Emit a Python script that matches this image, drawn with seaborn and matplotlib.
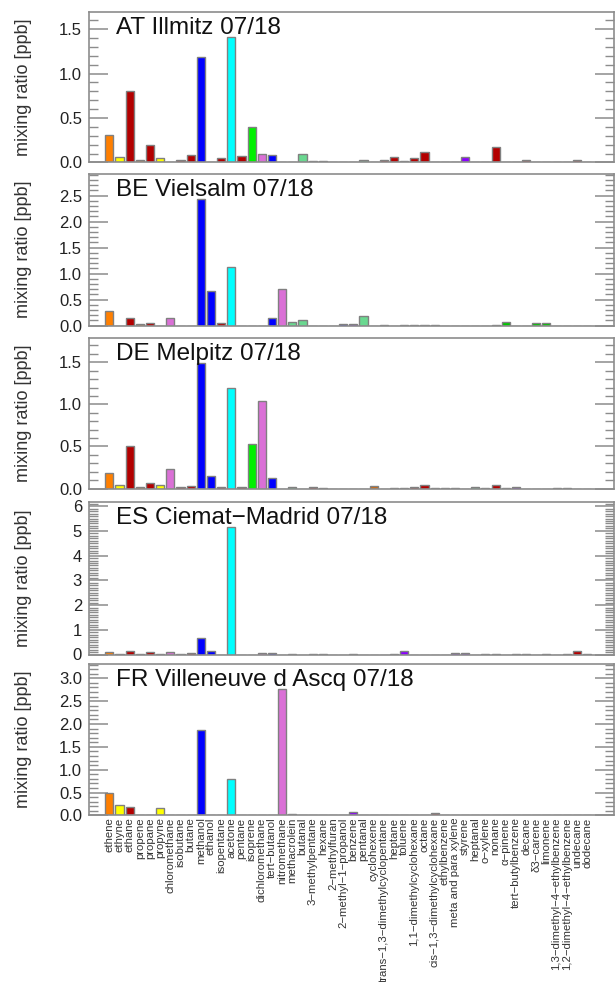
import matplotlib
matplotlib.use("Agg")
import matplotlib.pyplot as plt
from matplotlib.ticker import MultipleLocator, FormatStrFormatter
import seaborn as sns
import pandas as pd

# VOC species, in plotting order
compounds = [
    "ethene", "ethyne", "ethane", "propene", "propane", "propyne",
    "chloromethane", "isobutane", "butane", "methanol", "ethanol",
    "isopentane", "acetone", "pentane", "isoprene", "dichloromethane",
    "tert−butanol", "nitromethane", "methacrolein", "butanal",
    "3−methylpentane", "hexane", "2−methylfuran", "2−methyl−1−propanol",
    "benzene", "pentanal", "cyclohexene", "trans−1,3−dimethylcyclopentane",
    "heptane", "toluene", "1,1−dimethylcyclohexane", "octane",
    "cis−1,3−dimethylcyclohexane", "ethylbenzene", "meta and para xylene",
    "styrene", "heptanal", "o−xylene", "nonane", "α−pinene",
    "tert−butylbenzene", "decane", "δ3−carene", "limonene",
    "1,3−dimethyl−4−ethylbenzene", "1,2−dimethyl−4−ethylbenzene",
    "undecane", "dodecane",
]

# compound-class colours
ORANGE, YELLOW, RED = "#FF7F00", "#FFFF00", "#B30000"
BLUE, CYAN, GREEN = "#0000FF", "#00FFFF", "#00F000"
ORCHID, ALDEH, PURPLE = "#DA70D6", "#6AD890", "#8A00FF"
TERP, BROWN = "#00C800", "#D06A10"

compound_colors = [
    ORANGE, YELLOW, RED, ORANGE, RED, YELLOW,
    ORCHID, RED, RED, BLUE, BLUE,
    RED, CYAN, RED, GREEN, ORCHID,
    BLUE, ORCHID, ALDEH, ALDEH,
    RED, RED, BROWN, BLUE,
    PURPLE, ALDEH, BROWN, RED,
    RED, PURPLE, RED, RED,
    RED, PURPLE, PURPLE,
    PURPLE, ALDEH, PURPLE, RED, TERP,
    PURPLE, RED, TERP, TERP,
    PURPLE, PURPLE,
    RED, RED,
]

# mean mixing ratios (ppb), July 2018
at_illmitz = [
    0.31, 0.06, 0.80, 0.03, 0.20, 0.05, 0.00, 0.03, 0.08, 1.19, 0.00,
    0.05, 1.41, 0.07, 0.40, 0.09, 0.08, 0.00, 0.00, 0.10, 0.02, 0.02,
    0.00, 0.00, 0.00, 0.03, 0.01, 0.03, 0.06, 0.02, 0.05, 0.12, 0.00,
    0.01, 0.00, 0.06, 0.00, 0.00, 0.17, 0.01, 0.00, 0.03, 0.00, 0.00,
    0.00, 0.00, 0.03, 0.00,
]
be_vielsalm = [
    0.28, 0.00, 0.15, 0.03, 0.04, 0.00, 0.15, 0.00, 0.00, 2.43, 0.66,
    0.04, 1.13, 0.00, 0.00, 0.00, 0.15, 0.71, 0.07, 0.10, 0.00, 0.00,
    0.00, 0.02, 0.02, 0.19, 0.00, 0.01, 0.00, 0.01, 0.01, 0.01, 0.01,
    0.00, 0.00, 0.00, 0.00, 0.00, 0.01, 0.06, 0.00, 0.00, 0.04, 0.04,
    0.00, 0.00, 0.00, 0.00,
]
de_melpitz = [
    0.19, 0.04, 0.50, 0.02, 0.07, 0.04, 0.23, 0.02, 0.03, 1.49, 0.15,
    0.02, 1.20, 0.02, 0.53, 1.04, 0.13, 0.00, 0.02, 0.00, 0.02, 0.01,
    0.00, 0.00, 0.00, 0.00, 0.03, 0.00, 0.01, 0.01, 0.02, 0.04, 0.01,
    0.01, 0.01, 0.00, 0.02, 0.01, 0.04, 0.01, 0.02, 0.00, 0.00, 0.00,
    0.01, 0.01, 0.00, 0.00,
]
es_ciemat = [
    0.10, 0.03, 0.15, 0.03, 0.10, 0.04, 0.10, 0.03, 0.05, 0.65, 0.15,
    0.00, 5.15, 0.00, 0.00, 0.05, 0.05, 0.00, 0.03, 0.00, 0.02, 0.02,
    0.00, 0.00, 0.03, 0.00, 0.00, 0.00, 0.02, 0.15, 0.00, 0.00, 0.00,
    0.00, 0.05, 0.08, 0.00, 0.03, 0.03, 0.00, 0.03, 0.03, 0.00, 0.02,
    0.00, 0.02, 0.15, 0.03,
]
fr_villeneuve = [
    0.50, 0.23, 0.19, 0.00, 0.00, 0.17, 0.00, 0.00, 0.00, 1.86, 0.00,
    0.00, 0.80, 0.00, 0.00, 0.00, 0.00, 2.76, 0.02, 0.00, 0.00, 0.00,
    0.00, 0.00, 0.07, 0.00, 0.00, 0.00, 0.00, 0.00, 0.00, 0.00, 0.06,
    0.00, 0.00, 0.00, 0.00, 0.00, 0.00, 0.00, 0.00, 0.00, 0.00, 0.00,
    0.00, 0.00, 0.00, 0.00,
]

site_titles = [
    "AT Illmitz 07/18", "BE Vielsalm 07/18", "DE Melpitz 07/18",
    "ES Ciemat−Madrid 07/18", "FR Villeneuve d Ascq 07/18",
]
site_values = [at_illmitz, be_vielsalm, de_melpitz, es_ciemat, fr_villeneuve]

sns.set_style("white")
plt.rcParams["font.family"] = ["Liberation Sans", "DejaVu Sans"]

W, H = 615, 982
fig = plt.figure(figsize=(W / 100, H / 100), dpi=100)

# panel extents in pixels (top, bottom)
panel_px = [(12, 162.5), (174, 325.5), (338, 488.6), (501.7, 654.5), (664, 815.4)]
x_left, x_right = 89, 613.5

palette = dict(zip(compounds, compound_colors))
FRAME = "#8c8c8c"

for i, (title, vals) in enumerate(zip(site_titles, site_values)):
    top, bot = panel_px[i]
    ax = fig.add_axes([x_left / W, 1 - bot / H, (x_right - x_left) / W, (bot - top) / H])
    df = pd.DataFrame({"compound": compounds, "ppb": vals})
    sns.barplot(data=df, x="compound", y="ppb", hue="compound", order=compounds,
                hue_order=compounds, palette=palette, legend=False, ax=ax,
                width=0.8, edgecolor="#808080", linewidth=1.0, saturation=1)
    ax.set_xlim(-2, 49.6)
    ymax = 1.2 * max(vals)
    ax.set_ylim(0, ymax)

    if max(vals) > 4:
        ax.yaxis.set_major_locator(MultipleLocator(1))
        ax.yaxis.set_major_formatter(FormatStrFormatter("%d"))
    else:
        ax.yaxis.set_major_locator(MultipleLocator(0.5))
        ax.yaxis.set_major_formatter(FormatStrFormatter("%.1f"))
    ax.yaxis.set_minor_locator(MultipleLocator(0.1))

    ax.tick_params(axis="y", which="major", direction="in", length=13.5, width=1.1,
                   color=FRAME, left=True, right=True, labelsize=12,
                   labelcolor="#222222", pad=5)
    ax.tick_params(axis="y", which="minor", direction="in", length=6.5, width=1.0,
                   color=FRAME, left=True, right=True)
    ax.tick_params(axis="x", which="both", length=0, pad=1.5)

    for sp in ax.spines.values():
        sp.set_color(FRAME)
        sp.set_linewidth(1.2)
        sp.set_visible(True)

    ax.set_ylabel("mixing ratio [ppb]", fontsize=13, color="#333333")
    ax.yaxis.set_label_coords(-0.109, 0.5)
    ax.set_xlabel("")

    ax.text(0.0515, 0.854, title, transform=ax.transAxes, fontsize=17.5,
            ha="left", va="baseline", color="#111111")

    if i == len(site_titles) - 1:
        ax.set_xticks(range(len(compounds)))
        ax.set_xticklabels(compounds, rotation=90, fontsize=8.2, color="#333333",
                           va="top", ha="center")
    else:
        ax.set_xticklabels([])

fig.savefig("out.png", dpi=100)
